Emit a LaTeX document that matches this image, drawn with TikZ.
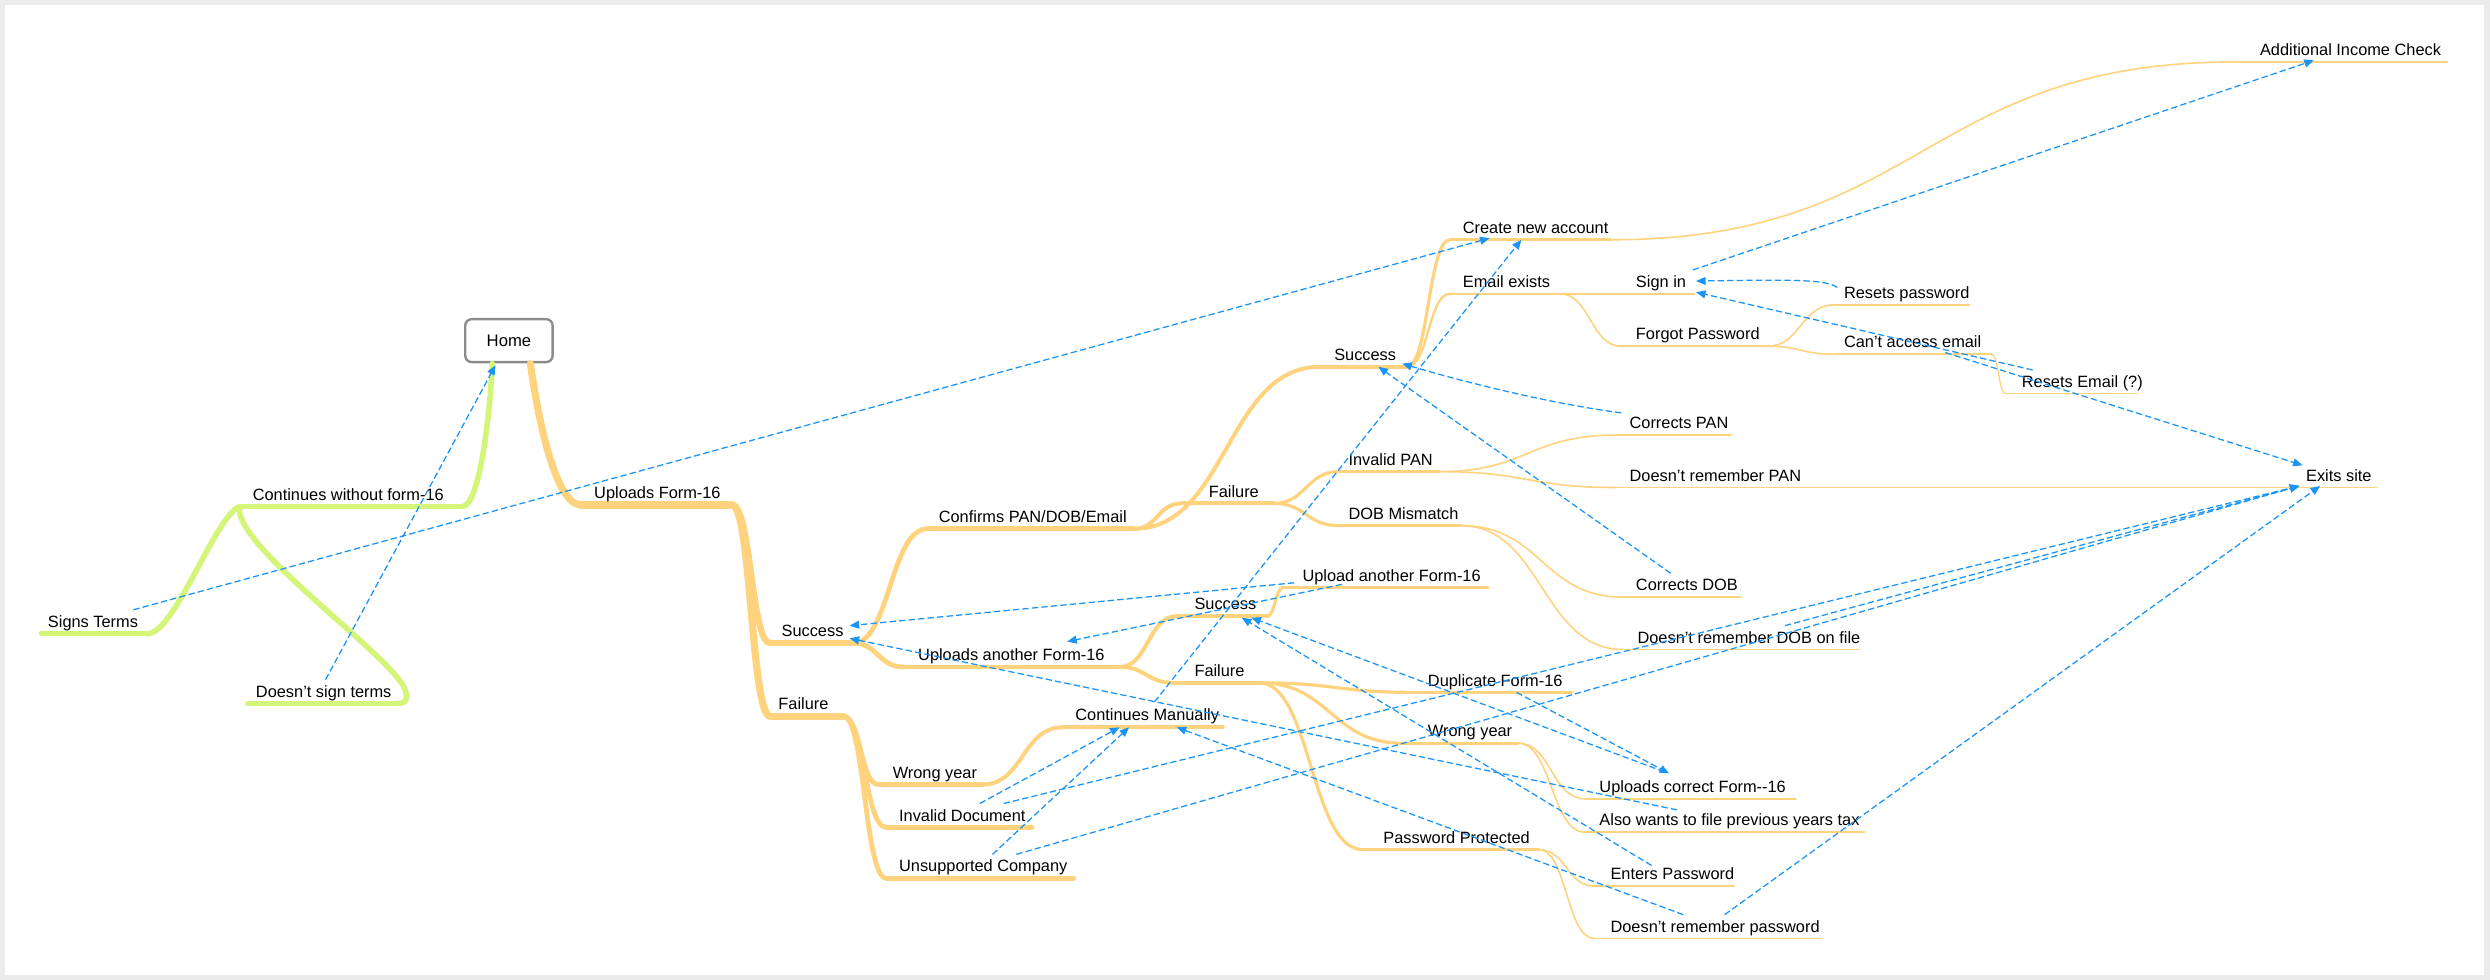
\documentclass[tikz,border=0pt]{standalone}
\usepackage{fontspec}
\setmainfont{Liberation Sans}
\usetikzlibrary{arrows.meta,calc}
\definecolor{orng}{RGB}{255,211,125}
\definecolor{grn}{RGB}{212,245,120}
\definecolor{blu}{RGB}{28,148,246}
\definecolor{frm}{RGB}{236,236,236}
\definecolor{hbd}{RGB}{140,140,140}
\tikzset{
  lbl/.style={anchor=base west, inner sep=0pt, font=\fontsize{10.3}{12}\selectfont, text=black},
  homebox/.style={draw=hbd, line width=1.5pt, rounded corners=4pt, fill=white, minimum width=55pt, minimum height=27pt, inner sep=0pt, font=\fontsize{10.5}{12}\selectfont},
  rel/.style={draw=blu, line width=0.8pt, dash pattern=on 4pt off 2pt, -{Triangle[length=6pt,width=5pt]}}
}
\newcommand\mmtopic[8]{%
  \coordinate (#1-s) at (#2,#4);
  \coordinate (#1-e) at (#3,#4);
  \draw[#7, line width=#6pt, line cap=round] (#1-s) -- (#1-e);
  \node[lbl] (#1) at (#5,#4-4) {#8};
}
\newcommand\mmconn[4]{%
  \draw[#4, line width=#3pt, line cap=round] let \p1=(#1-e), \p2=(#2-s), \n1={abs(\x2-\x1)/2} in (\p1) .. controls +(\n1,0) and +(-\n1,0) .. (\p2);
}
\begin{document}
\begin{tikzpicture}[x=1pt,y=-1pt]
\useasboundingbox (0,0) rectangle (1568,617);
\fill[frm] (0,0) rectangle (1568,617);
\fill[white] (3,3) rectangle (1564,614);

% ---- topics ----
\mmtopic{cont}{151}{291}{319}{159}{3.5}{grn}{Continues without form-16}
\mmtopic{signs}{26}{93}{399}{30}{3.5}{grn}{Signs Terms}
\mmtopic{dst}{156}{250}{443}{161}{3.5}{grn}{Doesn't sign terms}
\mmtopic{up}{366}{461}{318}{374}{4.5}{orng}{Uploads Form-16}
\mmtopic{sa}{485}{537}{405}{492}{4}{orng}{Success}
\mmtopic{fa}{485}{531}{451}{490}{4.5}{orng}{Failure}
\mmtopic{conf}{584}{714}{333}{591}{3}{orng}{Confirms PAN/DOB/Email}
\mmtopic{upa}{569}{705}{420}{578}{3}{orng}{Uploads another Form-16}
\mmtopic{wya}{553}{619}{494}{562}{3}{orng}{Wrong year}
\mmtopic{idoc}{558}{650}{521}{566}{3}{orng}{Invalid Document}
\mmtopic{usc}{558}{676}{553}{566}{3}{orng}{Unsupported Company}
\mmtopic{cm}{669}{770}{458}{677}{2.5}{orng}{Continues Manually}
\mmtopic{sb}{831}{886}{231}{840}{2.5}{orng}{Success}
\mmtopic{fb}{744}{802}{317}{761}{2.5}{orng}{Failure}
\mmtopic{sc}{741}{798}{388}{752}{2.5}{orng}{Success}
\mmtopic{fc}{739}{793}{430}{752}{2.5}{orng}{Failure}
\mmtopic{cna}{913}{1014}{151}{921}{2}{orng}{Create new account}
\mmtopic{ee}{913}{982}{185}{921}{1.5}{orng}{Email exists}
\mmtopic{aic}{1408}{1541}{39}{1423}{1}{orng}{Additional Income Check}
\mmtopic{si}{1022}{1067}{185}{1030}{1}{orng}{Sign in}
\mmtopic{fp}{1021}{1113}{218}{1030}{1}{orng}{Forgot Password}
\mmtopic{rp}{1155}{1240}{192}{1161}{1}{orng}{Resets password}
\mmtopic{cae}{1155}{1254}{223}{1161}{1}{orng}{Can't access email}
\mmtopic{re}{1263}{1346}{248}{1273}{0.8}{orng}{Resets Email (?)}
\mmtopic{ip}{843}{906}{297}{849}{2}{orng}{Invalid PAN}
\mmtopic{dm}{843}{920}{331}{849}{2}{orng}{DOB Mismatch}
\mmtopic{cp}{1018}{1090}{274}{1026}{1}{orng}{Corrects PAN}
\mmtopic{drp}{1018}{1440}{307}{1026}{1}{orng}{Doesn't remember PAN}
\mmtopic{ex}{1446}{1497}{307}{1452}{1}{orng}{Exits site}
\mmtopic{cd}{1022}{1096}{376}{1030}{1}{orng}{Corrects DOB}
\mmtopic{drd}{1022}{1171}{409}{1031}{1}{orng}{Doesn't remember DOB on file}
\mmtopic{ua}{808}{937}{370}{820}{2}{orng}{Upload another Form-16}
\mmtopic{dup}{890}{990}{436}{899}{2}{orng}{Duplicate Form-16}
\mmtopic{wyb}{883}{956}{468}{899}{2}{orng}{Wrong year}
\mmtopic{pp}{858}{969}{535}{871}{2}{orng}{Password Protected}
\mmtopic{uc}{998}{1131}{503}{1007}{1}{orng}{Uploads correct Form-{}-16}
\mmtopic{awf}{998}{1174}{524}{1007}{1}{orng}{Also wants to file previous years tax}
\mmtopic{ep}{1004}{1092}{558}{1014}{1}{orng}{Enters Password}
\mmtopic{drpw}{1004}{1147}{591}{1014}{1}{orng}{Doesn't remember password}

% ---- home ----
\node[homebox] (home) at (320.5,214.5) {Home};
\coordinate (home-l) at (310,229);
\coordinate (home-r) at (334,229);

% ---- branch connectors ----
\draw[grn, line width=3.5pt, line cap=round] (home-l) .. controls (308,270) and (301,319) .. (cont-e);
\draw[grn, line width=3.5pt, line cap=round] (cont-s) .. controls (136,324) and (110,399) .. (signs-e);
\draw[grn, line width=3.5pt, line cap=round] (cont-s) .. controls (146,342) and (240,408) .. (254,432) .. controls (258,440) and (256,443) .. (dst-e);
\draw[orng, line width=4.5pt, line cap=round] (home-r) .. controls (339,265) and (350,318) .. (up-s);
\mmconn{up}{sa}{4}{orng}
\mmconn{up}{fa}{4.5}{orng}
\mmconn{sa}{conf}{3}{orng}
\mmconn{sa}{upa}{3}{orng}
\mmconn{fa}{wya}{3}{orng}
\mmconn{fa}{idoc}{3}{orng}
\mmconn{fa}{usc}{3}{orng}
\mmconn{wya}{cm}{2.5}{orng}
\mmconn{conf}{sb}{2.5}{orng}
\mmconn{conf}{fb}{2.5}{orng}
\mmconn{upa}{sc}{2.5}{orng}
\mmconn{upa}{fc}{2.5}{orng}
\mmconn{sb}{cna}{2}{orng}
\mmconn{sb}{ee}{1.5}{orng}
\mmconn{cna}{aic}{1}{orng}
\mmconn{ee}{si}{1}{orng}
\mmconn{ee}{fp}{1}{orng}
\mmconn{fp}{rp}{1}{orng}
\mmconn{fp}{cae}{1}{orng}
\mmconn{cae}{re}{0.8}{orng}
\mmconn{fb}{ip}{2}{orng}
\mmconn{fb}{dm}{2}{orng}
\mmconn{ip}{cp}{1}{orng}
\mmconn{ip}{drp}{1}{orng}
\mmconn{drp}{ex}{1}{orng}
\mmconn{dm}{cd}{1}{orng}
\mmconn{dm}{drd}{1}{orng}
\mmconn{sc}{ua}{2}{orng}
\mmconn{fc}{dup}{2}{orng}
\mmconn{fc}{wyb}{2}{orng}
\mmconn{fc}{pp}{2}{orng}
\mmconn{wyb}{uc}{1}{orng}
\mmconn{wyb}{awf}{1}{orng}
\mmconn{pp}{ep}{1}{orng}
\mmconn{pp}{drpw}{1}{orng}

% ---- relationship end points ----
\coordinate (dst-o) at (205,428);   \coordinate (home-i) at (312,230);
\coordinate (signs-o) at (84,384);  \coordinate (cna-i1) at (938,150);
\coordinate (cm-o) at (727,442);    \coordinate (cna-i2) at (958,151);
\coordinate (si-o) at (1066,170);   \coordinate (aic-i) at (1457,38);
\coordinate (rp-o) at (1157,181);   \coordinate (si-i1) at (1068,177);
\coordinate (re-o) at (1280,233);   \coordinate (si-i2) at (1068,184);
\coordinate (cae-o) at (1225,222);  \coordinate (ex-i1) at (1450,293);
\coordinate (cp-o) at (1021,260);   \coordinate (sb-i1) at (883,229);
\coordinate (cd-o) at (1052,361);   \coordinate (sb-i2) at (868,231);
\coordinate (ua-o1) at (815,367);   \coordinate (sa-i1) at (535,394);
\coordinate (ua-o2) at (845,368);   \coordinate (upa-i) at (672,404);
\coordinate (dup-o) at (955,436);   \coordinate (uc-i) at (1051,487);
\coordinate (uc-o) at (1048,486);   \coordinate (sc-i1) at (788,389);
\coordinate (ep-o) at (1040,545);   \coordinate (sc-i2) at (782,389);
\coordinate (drpw-o1) at (1060,576);\coordinate (cm-i1) at (741,458);
\coordinate (drpw-o2) at (1086,576);\coordinate (ex-i2) at (1461,306);
\coordinate (awf-o) at (1056,510);  \coordinate (sa-i2) at (535,402);
\coordinate (idoc-o1) at (617,506); \coordinate (cm-i2) at (705,458);
\coordinate (idoc-o2) at (632,506); \coordinate (ex-i3) at (1448,306);
\coordinate (usc-o1) at (625,538);  \coordinate (cm-i3) at (711,458);
\coordinate (usc-o2) at (640,538);
\coordinate (drd-o) at (1124,394);

% ---- relationships ----
\draw[rel] (dst-o) -- (home-i);
\draw[rel] (signs-o) -- (cna-i1);
\draw[rel] (cm-o) -- (cna-i2);
\draw[rel] (si-o) -- (aic-i);
\draw[rel] (rp-o) .. controls (1150,176) and (1130,176) .. (si-i1);
\draw[rel] (re-o) -- (si-i2);
\draw[rel] (cae-o) -- (ex-i1);
\draw[rel] (cp-o) .. controls (975,254) and (920,240) .. (sb-i1);
\draw[rel] (cd-o) -- (sb-i2);
\draw[rel] (ua-o1) -- (sa-i1);
\draw[rel] (ua-o2) -- (upa-i);
\draw[rel] (dup-o) -- (uc-i);
\draw[rel] (uc-o) -- (sc-i1);
\draw[rel] (ep-o) -- (sc-i2);
\draw[rel] (drpw-o1) -- (cm-i1);
\draw[rel] (drpw-o2) -- (ex-i2);
\draw[rel] (awf-o) -- (sa-i2);
\draw[rel] (idoc-o1) -- (cm-i2);
\draw[rel] (idoc-o2) -- (ex-i3);
\draw[rel] (usc-o1) -- (cm-i3);
\draw[rel] (usc-o2) -- (ex-i3);
\draw[rel] (drd-o) -- (ex-i3);
\end{tikzpicture}
\end{document}
